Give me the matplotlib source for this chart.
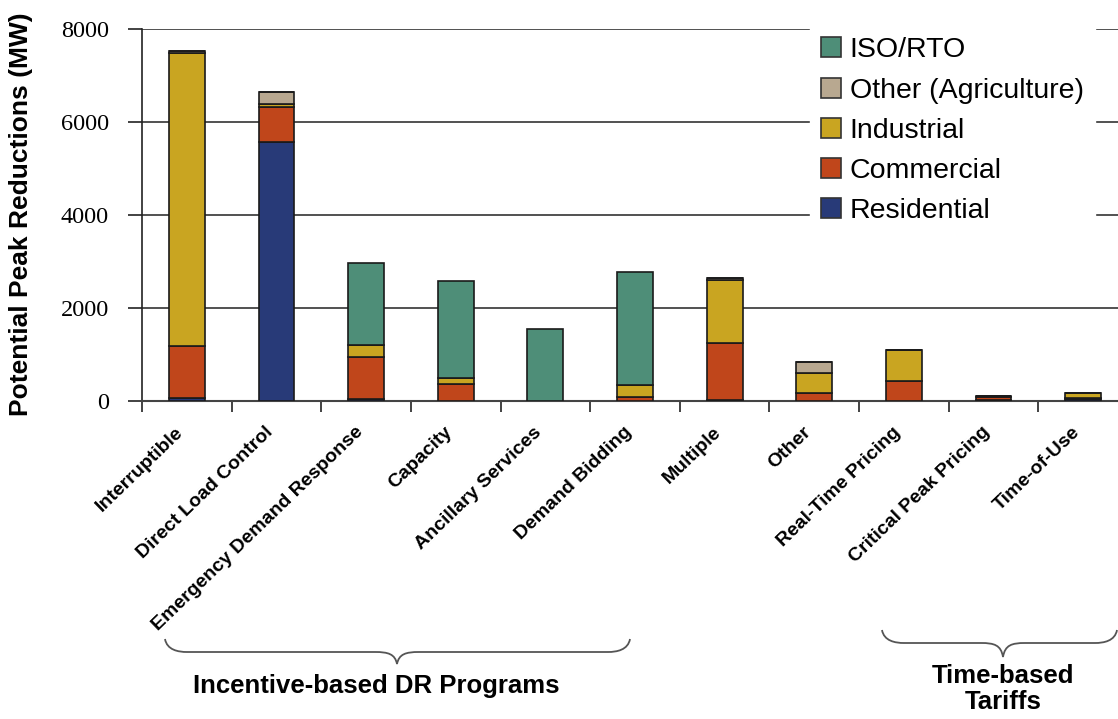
import matplotlib
matplotlib.use("Agg")
import matplotlib.pyplot as plt
import numpy as np
from matplotlib.path import Path
from matplotlib.patches import PathPatch, Patch

categories = ["Interruptible", "Direct Load Control", "Emergency Demand Response",
              "Capacity", "Ancillary Services", "Demand Bidding", "Multiple",
              "Other", "Real-Time Pricing", "Critical Peak Pricing", "Time-of-Use"]
residential = [70, 5560, 50, 0, 0, 10, 30, 0, 0, 30, 50]
commercial = [1110, 755, 890, 360, 0, 80, 1210, 165, 430, 50, 10]
industrial = [6300, 75, 270, 140, 0, 255, 1360, 445, 665, 25, 110]
other_ag = [50, 255, 0, 0, 0, 0, 40, 230, 0, 0, 0]
iso_rto = [0, 0, 1765, 2090, 1555, 2425, 0, 0, 0, 0, 0]

series = [("Residential", residential, "#283A78"),
          ("Commercial", commercial, "#C0461B"),
          ("Industrial", industrial, "#C9A521"),
          ("Other (Agriculture)", other_ag, "#B8A890"),
          ("ISO/RTO", iso_rto, "#4E8E78")]

W, H = 1118, 719
fig = plt.figure(figsize=(W / 100, H / 100), dpi=100)
fig.patch.set_facecolor("white")

ax = fig.add_axes([142 / W, 1 - 401 / H, 986 / W, 372 / H])
x = np.arange(len(categories))
bottom = np.zeros(len(categories))
for name, vals, col in series:
    v = np.array(vals, dtype=float)
    ax.bar(x, v, width=0.40, bottom=bottom, color=col, edgecolor="#1a1a1a",
           linewidth=1.2, zorder=3)
    bottom += v

ax.set_xlim(-0.5, len(categories) - 0.5)
ax.set_ylim(0, 8000)
ax.set_yticks([0, 2000, 4000, 6000, 8000])
ax.set_yticklabels(["0", "2000", "4000", "6000", "8000"],
                   fontfamily="Liberation Serif", fontsize=17.5)
ax.tick_params(axis="y", direction="out", length=10, width=1.2, pad=14, color="#222222")
ax.yaxis.grid(True, color="#222222", linewidth=1.1, zorder=0)
ax.set_axisbelow(True)

# category boundary ticks
ax.set_xticks(np.arange(len(categories) + 1) - 0.5)
ax.set_xticklabels([])
ax.tick_params(axis="x", which="major", direction="out", length=8, width=1.2, color="#222222")
ax.set_xticks(x, minor=True)
ax.set_xticklabels(categories, minor=True, rotation=44, ha="right", va="bottom",
                   rotation_mode="anchor", fontfamily="Liberation Sans",
                   fontweight="bold", fontsize=14)
ax.tick_params(axis="x", which="minor", length=0, pad=25)

for s in ["top", "right"]:
    ax.spines[s].set_visible(False)
ax.spines["left"].set_color("#222222")
ax.spines["left"].set_linewidth(1.2)
ax.spines["bottom"].set_color("#444444")
ax.spines["bottom"].set_linewidth(1.5)

fig.text(21 / W, 1 - 214 / H, "Potential Peak Reductions (MW)", rotation=90,
         ha="center", va="center", fontfamily="Liberation Sans",
         fontweight="bold", fontsize=19)

# legend
handles = [Patch(facecolor=col, edgecolor="#333333", linewidth=1.2, label=name)
           for name, vals, col in series[::-1]]
leg = fig.legend(handles=handles, loc="upper left",
                 bbox_to_anchor=(810 / W, 1 - 26 / H), bbox_transform=fig.transFigure,
                 frameon=True, fancybox=False, framealpha=1, facecolor="white",
                 edgecolor="white", prop={"family": "Liberation Sans", "size": 20.5},
                 handlelength=0.7, handleheight=0.7, handletextpad=0.3,
                 labelspacing=0.5, borderpad=0.4, borderaxespad=0)

# overlay for braces
ov = fig.add_axes([0, 0, 1, 1], zorder=5)
ov.set_xlim(0, W)
ov.set_ylim(H, 0)
ov.axis("off")
ov.patch.set_alpha(0)


def brace(x0, x1, xm, y_end, y_mid, y_tip):
    r = 22
    verts = [(x0, y_end),
             (x0 + 2, y_mid - 2), (x0 + r * 0.6, y_mid), (x0 + r, y_mid),
             (xm - r, y_mid),
             (xm - r * 0.4, y_mid), (xm - 2, y_mid + 2), (xm, y_tip),
             (xm + 2, y_mid + 2), (xm + r * 0.4, y_mid), (xm + r, y_mid),
             (x1 - r, y_mid),
             (x1 - r * 0.6, y_mid), (x1 - 2, y_mid - 2), (x1, y_end)]
    codes = [Path.MOVETO,
             Path.CURVE4, Path.CURVE4, Path.CURVE4,
             Path.LINETO,
             Path.CURVE4, Path.CURVE4, Path.CURVE4,
             Path.CURVE4, Path.CURVE4, Path.CURVE4,
             Path.LINETO,
             Path.CURVE4, Path.CURVE4, Path.CURVE4]
    ov.add_patch(PathPatch(Path(verts, codes), facecolor="none",
                           edgecolor="#555555", linewidth=1.3))


brace(165, 630, 397, 639, 652, 664)
brace(882, 1117, 1003, 630, 643, 657)

ov.text(376, 686, "Incentive-based DR Programs", ha="center", va="center",
        fontfamily="Liberation Sans", fontweight="bold", fontsize=18.5)
ov.text(1003, 676, "Time-based", ha="center", va="center",
        fontfamily="Liberation Sans", fontweight="bold", fontsize=18.5)
ov.text(1003, 702, "Tariffs", ha="center", va="center",
        fontfamily="Liberation Sans", fontweight="bold", fontsize=18.5)

fig.savefig("out.png", dpi=100, facecolor="white")
